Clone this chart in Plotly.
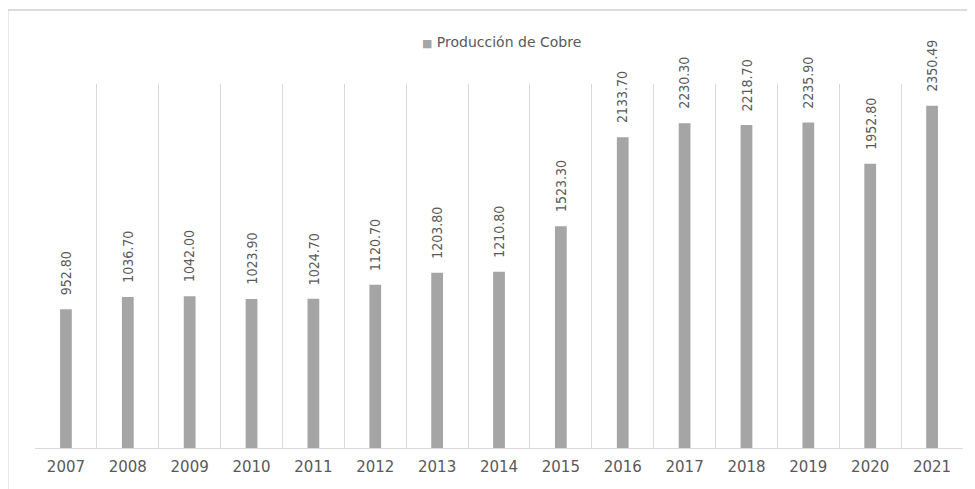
import plotly.graph_objects as go

anios = ['2007', '2008', '2009', '2010', '2011', '2012', '2013', '2014',
         '2015', '2016', '2017', '2018', '2019', '2020', '2021']
produccion = [952.80, 1036.70, 1042.00, 1023.90, 1024.70, 1120.70, 1203.80, 1210.80,
              1523.30, 2133.70, 2230.30, 2218.70, 2235.90, 1952.80, 2350.49]
etiquetas = ['%.2f' % v for v in produccion]
serie = 'Producción de Cobre'

bar = go.Bar(x=anios, y=produccion,
             name=serie,
             marker=dict(color='#a5a5a5', line=dict(width=0)),
             width=0.19,
             showlegend=False,
             )

# etiquetas de datos verticales, separadas de la barra
# (en eje de categorías, '2007' se leería como índice, así que se usa la posición)
notas = [dict(x=i, y=v, xref='x', yref='y', text=t, textangle=-90, showarrow=False,
              xanchor='center', yanchor='bottom', yshift=12,
              font=dict(family='DejaVu Sans Condensed, Open Sans', size=14, color='#595959'))
         for i, (v, t) in enumerate(zip(produccion, etiquetas))]

notas.append(dict(xref='paper', yref='paper', x=0.503, y=1.115, xanchor='center',
                  yanchor='middle', showarrow=False,
                  text="<span style='color:#a5a5a5;font-size:11px'>■</span> " + serie,
                  font=dict(family='DejaVu Sans', size=14, color='#595959')))

# la página tiene 8px de margen en el body, por eso el lienzo es más chico
layout = go.Layout(
    width=967, height=481,
    margin=dict(l=27, r=12, t=76, b=41),
    paper_bgcolor='white', plot_bgcolor='white',
    font=dict(family='Open Sans', color='#595959'),
    xaxis=dict(type='category', categoryorder='array', categoryarray=anios,
               range=[-0.5, len(anios) - 0.5],
               tickson='boundaries', showgrid=True, gridcolor='#d9d9d9',
               gridwidth=1, showline=True, linecolor='#d9d9d9', ticks='',
               tickfont=dict(family='DejaVu Sans', size=15, color='#595959'),
               ticklabelstandoff=5),
    yaxis=dict(range=[0, 2500], visible=False, showgrid=False, zeroline=False),
    shapes=[dict(type='rect', xref='paper', yref='paper', x0=-0.0295, x1=1.03,
                 y0=-0.2, y1=1.2035, line=dict(color='#dcdcdc', width=2),
                 fillcolor='rgba(0,0,0,0)', layer='below')],
    annotations=notas,
)

fig = go.Figure(data=[bar], layout=layout)
fig.write_html('out.html')
